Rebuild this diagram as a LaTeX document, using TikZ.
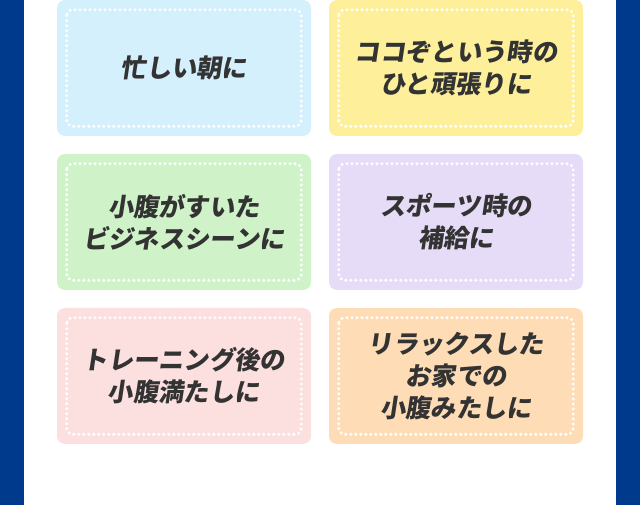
\documentclass[tikz,border=0pt]{standalone}
\usepackage{fontspec}
\newfontfamily\jpfont[FakeSlant=0.15]{Noto Sans CJK JP}
\definecolor{bandblue}{HTML}{003A8C}
\definecolor{inkgray}{HTML}{333333}
\definecolor{cardblue}{HTML}{D5F0FD}
\definecolor{cardyellow}{HTML}{FEF09B}
\definecolor{cardgreen}{HTML}{D0F2C9}
\definecolor{cardpurple}{HTML}{E7DCF8}
\definecolor{cardpink}{HTML}{FCDFDF}
\definecolor{cardorange}{HTML}{FEDDB6}
\begin{document}
\begin{tikzpicture}[x=0.75pt,y=-0.75pt,
  card/.style={rectangle,rounded corners=6pt,minimum width=190.5pt,minimum height=102pt,
    inner sep=0pt,align=center,text=inkgray,font=\jpfont\bfseries\fontsize{19pt}{24pt}\selectfont},
  dotline/.style={white,line width=2.5pt,line cap=round,dash pattern=on 0pt off 3.75pt,rounded corners=4.5pt}]
\useasboundingbox (0,0) rectangle (640,505);
\fill[bandblue] (0,0) rectangle (24,505); % side bands
\fill[bandblue] (616,0) rectangle (640,505);

\foreach \name/\x/\y/\col/\txt in {
  busy/184/68/cardblue/{忙しい朝に},
  push/456/68/cardyellow/{ココぞという時の\\ひと頑張りに},
  business/184/222/cardgreen/{小腹がすいた\\ビジネスシーンに},
  sports/456/222/cardpurple/{スポーツ時の\\補給に},
  training/184/376/cardpink/{トレーニング後の\\小腹満たしに},
  relax/456/376/cardorange/{リラックスした\\お家での\\小腹みたしに}}
{
\node[card,fill=\col] (\name) at (\x,\y) {\txt};
\draw[dotline] ([shift={(10,10)}]\name.north west) rectangle ([shift={(-10,-10)}]\name.south east);
}
\end{tikzpicture}
\end{document}
